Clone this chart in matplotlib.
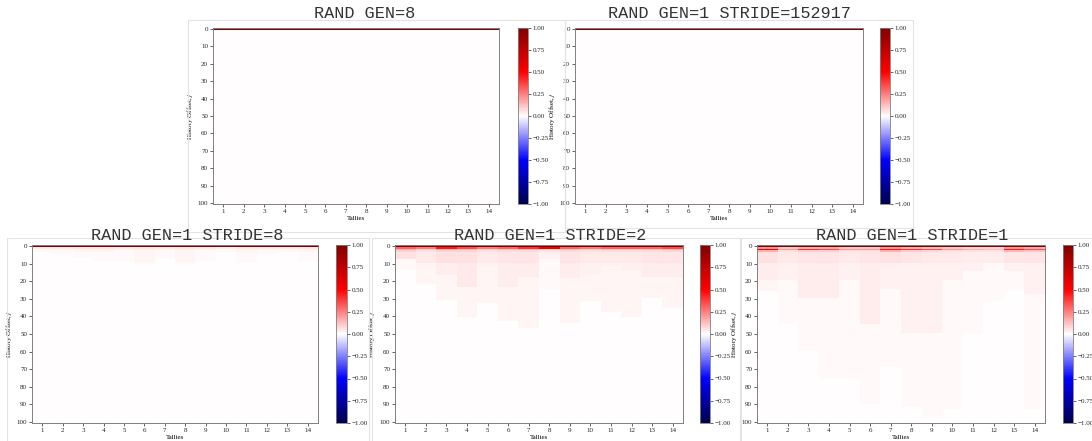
import numpy as np
import matplotlib
matplotlib.use("Agg")
import matplotlib.pyplot as plt
from matplotlib.patches import Rectangle

plt.rcParams["font.family"] = ["Liberation Serif", "DejaVu Serif"]
plt.rcParams["mathtext.fontset"] = "stix"

W, H = 1092, 441

TALLIES = list(range(1, 15))
N_LAGS = 101   # history offsets 0..100
CBAR_TICKS = [-1.0, -0.75, -0.5, -0.25, 0.0, 0.25, 0.5, 0.75, 1.0]

# lag 0 is always full self-correlation
LAG0 = [1.0] * 14

# --- RAND GEN=1 STRIDE=8 : faint pink just under lag 0 ---
S8_ROW1 = [0.04, 0.04, 0.05, 0.05, 0.04, 0.05, 0.04, 0.05, 0.04, 0.03, 0.04, 0.04, 0.04, 0.05]
S8_ROW2 = [0.02, 0.02, 0.03, 0.03, 0.02, 0.03, 0.02, 0.03, 0.02, 0.01, 0.03, 0.02, 0.02, 0.03]
S8_ROW3 = [0.015, 0.015, 0.02, 0.02, 0.015, 0.02, 0.015, 0.02, 0.015, 0.01, 0.02, 0.015, 0.015, 0.02]
S8_NEAR = [0.012, 0.014, 0.014, 0.014, 0.014, 0.016, 0.012, 0.016, 0.014, 0.0, 0.014, 0.012, 0.012, 0.014]
S8_HEAD = [0.008, 0.01, 0.01, 0.01, 0.01, 0.012, 0.008, 0.012, 0.01, 0.0, 0.01, 0.008, 0.008, 0.01]
S8_HEAD_END = [3, 5, 7, 9, 9, 11, 8, 11, 9, 2, 10, 5, 4, 9]
S8_TAIL = [0.004] * 14
S8_TAIL_END = [20, 25, 30, 30, 25, 30, 25, 30, 25, 10, 28, 20, 20, 30]

# --- RAND GEN=1 STRIDE=2 ---
S2_ROW1 = [0.3, 0.25, 0.45, 0.35, 0.25, 0.3, 0.4, 0.55, 0.3, 0.25, 0.3, 0.3, 0.3, 0.35]
S2_ROW2 = [0.15, 0.1, 0.15, 0.14, 0.1, 0.12, 0.14, 0.1, 0.12, 0.1, 0.11, 0.11, 0.12, 0.14]
S2_ROW3 = [0.09, 0.06, 0.08, 0.08, 0.06, 0.07, 0.07, 0.05, 0.07, 0.06, 0.07, 0.07, 0.07, 0.08]
S2_NEAR = [0.06, 0.045, 0.055, 0.06, 0.04, 0.05, 0.05, 0.03, 0.05, 0.045, 0.045, 0.045, 0.05, 0.05]
S2_HEAD = [0.04, 0.03, 0.035, 0.04, 0.028, 0.035, 0.035, 0.022, 0.035, 0.03, 0.03, 0.03, 0.035, 0.035]
S2_HEAD_END = [8, 10, 17, 24, 12, 24, 18, 8, 19, 17, 12, 15, 18, 18]
S2_TAIL = [0.015, 0.018, 0.02, 0.02, 0.017, 0.02, 0.02, 0.012, 0.018, 0.017, 0.017, 0.017, 0.02, 0.02]
S2_TAIL_END = [14, 22, 31, 41, 33, 43, 47, 25, 44, 32, 38, 41, 30, 36]

# --- RAND GEN=1 STRIDE=1 ---
S1_ROW1 = [0.2, 0.1, 0.15, 0.15, 0.1, 0.1, 0.2, 0.15, 0.12, 0.1, 0.08, 0.08, 0.2, 0.15]
S1_ROW2 = [0.5, 0.2, 0.4, 0.35, 0.2, 0.2, 0.45, 0.4, 0.35, 0.2, 0.15, 0.12, 0.45, 0.35]
S1_ROW3 = [0.15, 0.07, 0.1, 0.1, 0.07, 0.07, 0.15, 0.1, 0.08, 0.07, 0.06, 0.06, 0.14, 0.12]
S1_NEAR = [0.06, 0.045, 0.05, 0.05, 0.045, 0.05, 0.055, 0.05, 0.045, 0.04, 0.035, 0.035, 0.05, 0.05]
S1_HEAD = [0.035, 0.03, 0.035, 0.035, 0.03, 0.035, 0.03, 0.03, 0.03, 0.028, 0.025, 0.025, 0.028, 0.03]
S1_HEAD_END = [20, 20, 30, 30, 20, 45, 25, 50, 50, 20, 15, 10, 15, 28]
S1_TAIL = [0.018, 0.015, 0.015, 0.015, 0.015, 0.015, 0.015, 0.015, 0.015, 0.012, 0.015, 0.015, 0.012, 0.015]
S1_TAIL_END = [26, 45, 60, 76, 76, 90, 69, 92, 98, 93, 50, 32, 26, 93]

NEAR_END = 10
ZERO = [0.0] * 14
ONE_ROW = [1] * 14


def build(row1, row2, row3, near, head, head_end, tail, tail_end):
    mat = np.zeros((N_LAGS, len(TALLIES)))
    for c in range(len(TALLIES)):
        mat[0, c] = LAG0[c]
        mat[1, c] = row1[c]
        mat[2, c] = row2[c]
        mat[3, c] = row3[c]
        mat[4:head_end[c], c] = head[c]
        mat[max(head_end[c], 4):tail_end[c], c] = tail[c]
        mat[4:min(NEAR_END, max(head_end[c], 4)), c] = near[c]
    return mat


panels = [
    # title, matrix, axes box (px: x0, y0, x1, y1), cbar box, title centre, frame box
    ("RAND GEN=8", build(ZERO, ZERO, ZERO, ZERO, ZERO, ONE_ROW, ZERO, ONE_ROW),
     (213, 28, 499, 204), (518, 28, 528, 204), (365, 13.5), (188, 20, 565, 232)),
    ("RAND GEN=1 STRIDE=152917", build(ZERO, ZERO, ZERO, ZERO, ZERO, ONE_ROW, ZERO, ONE_ROW),
     (575, 28, 863, 204), (880, 28, 890, 204), (730, 13.5), (565, 20, 913, 228)),
    ("RAND GEN=1 STRIDE=8", build(S8_ROW1, S8_ROW2, S8_ROW3, S8_NEAR, S8_HEAD, S8_HEAD_END,
                                  S8_TAIL, S8_TAIL_END),
     (32, 245, 318, 423), (336, 245, 347, 423), (187, 235.5), (7, 238, 369, 445)),
    ("RAND GEN=1 STRIDE=2", build(S2_ROW1, S2_ROW2, S2_ROW3, S2_NEAR, S2_HEAD, S2_HEAD_END,
                                  S2_TAIL, S2_TAIL_END),
     (395, 245, 683, 423), (700, 245, 710, 423), (550, 235.5), (372, 238, 740, 445)),
    ("RAND GEN=1 STRIDE=1", build(S1_ROW1, S1_ROW2, S1_ROW3, S1_NEAR, S1_HEAD, S1_HEAD_END,
                                  S1_TAIL, S1_TAIL_END),
     (757, 245, 1045, 423), (1063, 245, 1073, 423), (912, 235.5), (741, 238, 1095, 445)),
]


def box(x0, y0, x1, y1):
    return [x0 / W, 1 - y1 / H, (x1 - x0) / W, (y1 - y0) / H]


fig = plt.figure(figsize=(W / 100, H / 100), dpi=100)

# panel frames first, so titles sit over them
for _, _, _, _, _, frame in panels:
    x0, y0, x1, y1 = frame
    fig.patches.append(Rectangle((x0 / W, 1 - y1 / H), (x1 - x0) / W, (y1 - y0) / H,
                                 transform=fig.transFigure, fill=False,
                                 edgecolor="#e3e3e3", linewidth=0.8, zorder=0))

x_edges = np.arange(0.5, len(TALLIES) + 1, 1.0)
y_edges = np.arange(-0.5, N_LAGS, 1.0)

spine_col = "#808080"
for title, mat, ax_box, cb_box, tpos, _ in panels:
    ax = fig.add_axes(box(*ax_box))
    mesh = ax.pcolormesh(x_edges, y_edges, mat, cmap="seismic", vmin=-1, vmax=1,
                         shading="flat", edgecolors="none", antialiased=False)
    ax.set_xlim(0.5, 14.5)
    ax.set_ylim(100.5, -0.5)
    ax.set_xticks(TALLIES)
    ax.set_yticks(range(0, 101, 10))
    ax.tick_params(labelsize=5, length=2, width=0.5, pad=1.5, colors="#222222")
    ax.set_xlabel("Tallies", fontsize=5, labelpad=1.5)
    ax.set_ylabel("History Offset, $j$", fontsize=5, labelpad=2)
    for s in ax.spines.values():
        s.set_color(spine_col)
        s.set_linewidth(0.7)

    cax = fig.add_axes(box(*cb_box))
    cb = fig.colorbar(mesh, cax=cax, ticks=CBAR_TICKS)
    cb.ax.tick_params(labelsize=5, length=2, width=0.5, pad=1.5, colors="#222222")
    cb.ax.set_yticklabels([f"{t:.2f}".replace("-", "\u2212") for t in CBAR_TICKS])
    cb.outline.set_edgecolor(spine_col)
    cb.outline.set_linewidth(0.6)

    fig.text(tpos[0] / W, 1 - tpos[1] / H, title, ha="center", va="center",
             fontsize=12.2, family=["Liberation Mono", "DejaVu Sans Mono"], color="#333333")

fig.savefig("out.png", dpi=100)
